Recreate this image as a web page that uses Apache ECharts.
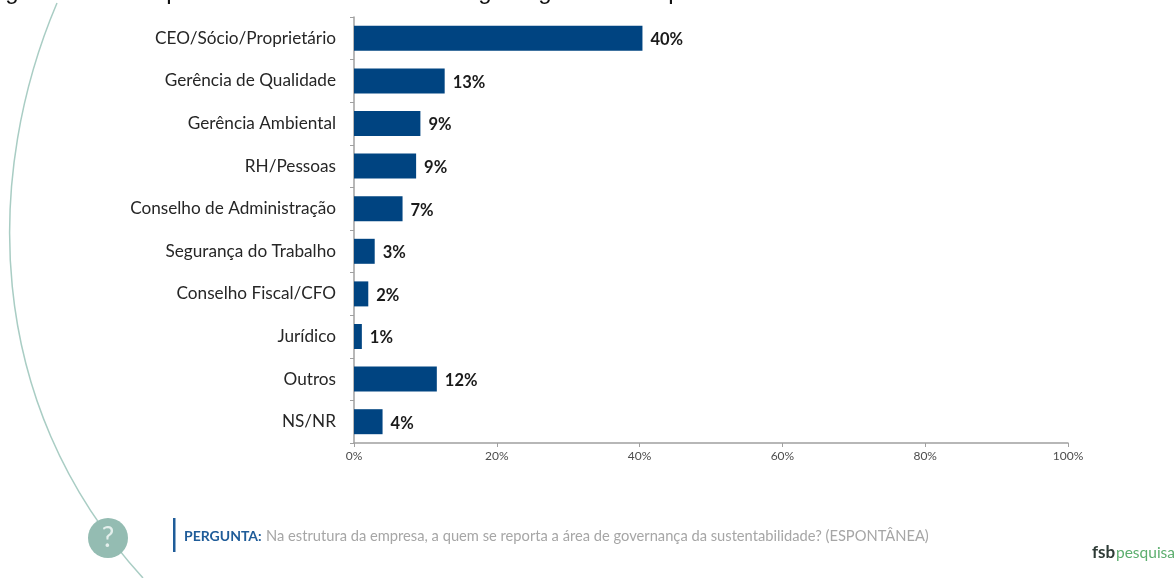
<!DOCTYPE html>
<html>
<head>
<meta charset="utf-8">
<style>html,body{margin:0;padding:0;background:#fff}#c{width:1174px;height:578px}</style>
<script src="https://cdn.jsdelivr.net/npm/echarts@6/dist/echarts.min.js"></script>
</head>
<body>
<div id="c"></div>
<script>
const categories = ['CEO/Sócio/Proprietário','Gerência de Qualidade','Gerência Ambiental','RH/Pessoas','Conselho de Administração','Segurança do Trabalho','Conselho Fiscal/CFO','Jurídico','Outros','NS/NR'];
const values = [40.4,12.7,9.3,8.7,6.8,2.9,2.0,1.1,11.6,4.0];
const valueLabels = ['40%','13%','9%','9%','7%','3%','2%','1%','12%','4%'];
const questionLead = 'PERGUNTA:';
const questionText = 'Na estrutura da empresa, a quem se reporta a área de governança da sustentabilidade? (ESPONTÂNEA)';
// Descenders of the heading line, which runs off the top edge of the page
const headingTails = [['g',12],['p',173],['g',485],['g',545],['p',675]];
const font = 'Lato, "Open Sans", sans-serif';

const chart = echarts.init(document.getElementById('c'), null, {renderer:'canvas'});
chart.setOption({
  animation:false,
  backgroundColor:'#fff',
  grid:{left:354,top:17,width:714,height:426,containLabel:false},
  xAxis:{
    type:'value',min:0,max:100,interval:20,
    axisLine:{show:true,lineStyle:{color:'#a0a0a0',width:1.5}},
    axisTick:{show:true,length:4,lineStyle:{color:'#a0a0a0'}},
    splitLine:{show:false},
    axisLabel:{formatter:'{value}%',fontFamily:font,fontSize:12,color:'#4d4d4d',margin:7}
  },
  yAxis:{
    type:'category',inverse:true,data:categories,
    axisLine:{show:true,lineStyle:{color:'#a0a0a0',width:1.5}},
    axisTick:{show:true,length:4,lineStyle:{color:'#a0a0a0'}},
    axisLabel:{fontFamily:font,fontSize:17.2,color:'#262626',margin:18}
  },
  series:[{
    type:'bar',data:values,barWidth:25,
    itemStyle:{color:'#004481'},
    label:{show:true,position:'right',distance:8,offset:[0,1.5],fontFamily:font,fontSize:16.5,fontWeight:'bold',color:'#1a1a1a',
      formatter:p=>valueLabels[p.dataIndex]}
  }],
  graphic:[
    {type:'bezierCurve',z:1,shape:{x1:57,y1:3,cpx1:-14,cpy1:170,cpx2:-20,cpy2:400,x2:143,y2:578},style:{fill:'none',stroke:'#a9cdc4',lineWidth:1.5}},
    {type:'circle',z:2,shape:{cx:108,cy:538,r:20},style:{fill:'#94bcb2'}},
    {type:'text',z:3,x:108,y:538,style:{text:'?',fill:'#e4efec',font:'28px '+font,align:'center',verticalAlign:'middle'}},
    {type:'rect',z:2,shape:{x:173,y:518,width:2.5,height:34},style:{fill:'#1f5c99'}},
    {type:'text',z:3,x:184,y:536,style:{text:questionLead,fill:'#1f5c99',font:'bold 14px '+font,verticalAlign:'middle'}},
    {type:'text',z:3,x:266,y:536,style:{text:questionText,fill:'#a6a6a6',font:'14.7px '+font,verticalAlign:'middle'}},
    {type:'text',z:3,x:1092,y:553,style:{text:'fsb',fill:'#2e3b36',font:'bold 17px '+font,verticalAlign:'middle'}},
    {type:'text',z:3,x:1116,y:553,style:{text:'pesquisa',fill:'#5cae6e',font:'15.5px '+font,verticalAlign:'middle'}},
    ...headingTails.map(([ch,x])=>({type:'text',z:3,x:x,y:-8,style:{text:ch,fill:'#111',font:'24px "Liberation Sans"',align:'center',verticalAlign:'middle'}}))
  ]
});
</script>
</body>
</html>
